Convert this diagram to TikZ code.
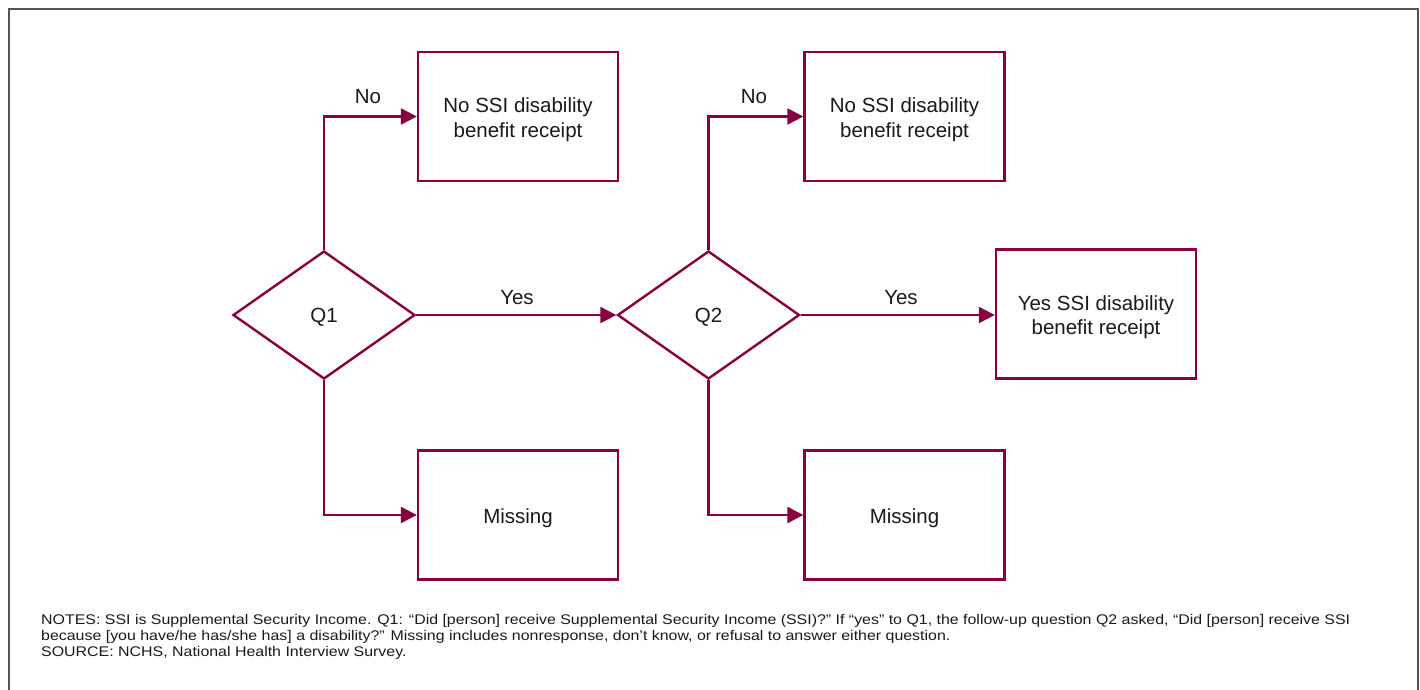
\documentclass[tikz,border=0pt]{standalone}
\usepackage{fontspec}
\setmainfont{Liberation Sans}
\newfontfamily\notefont[FakeStretch=1.138]{Liberation Sans}
\usetikzlibrary{shapes.geometric,arrows.meta}
\definecolor{maroon}{HTML}{880040}
\definecolor{framegray}{HTML}{555555}
\definecolor{txt}{HTML}{1A1A1A}
\begin{document}
\begin{tikzpicture}[x=1pt,y=-1pt,
  boxtxt/.style={align=center,text=txt,inner sep=0pt,yshift=-3pt,font=\fontsize{20.5}{24.5}\selectfont},
  box/.style={draw=maroon,line width=2.4pt,minimum width=200pt,minimum height=129pt,inner sep=0pt},
  decision/.style={diamond,draw=maroon,line width=2.4pt,minimum width=182pt,minimum height=128pt,inner sep=0pt},
  flow/.style={draw=maroon,line width=2.4pt,-{Triangle[length=16pt,width=16pt]}},
  lbl/.style={text=txt,font=\fontsize{20.5}{24.5}\selectfont,inner sep=0pt},
  note/.style={anchor=base west,text=txt,inner sep=0pt,font=\notefont\fontsize{14}{16}\selectfont}]
\useasboundingbox (0,0) rectangle (1420,689);
\fill[white] (0,0) rectangle (1420,689);
\draw[framegray,line width=2pt] (8.5,700) -- (8.5,8.5) -- (1417.5,8.5) -- (1417.5,700);

\node[decision,label={[boxtxt,yshift=1pt]center:Q1}] (q1) at (324,315) {};
\node[decision,label={[boxtxt,yshift=1pt]center:Q2}] (q2) at (708.5,315) {};
\node[box,label={[boxtxt]center:No SSI disability\\benefit receipt}] (no1) at (518,116.5) {};
\node[box,label={[boxtxt]center:Missing}] (miss1) at (518,515) {};
\node[box,label={[boxtxt]center:No SSI disability\\benefit receipt}] (no2) at (904.5,116.5) {};
\node[box,label={[boxtxt]center:Missing}] (miss2) at (904.5,515) {};
\node[box,label={[boxtxt]center:Yes SSI disability\\benefit receipt}] (yes2) at (1096,314) {};

\draw[flow] (q1.north) |- (no1.west);
\draw[flow] (q1.south) |- (miss1.west);
\draw[flow] (q1.east) -- (q2.west);
\draw[flow] (q2.north) |- (no2.west);
\draw[flow] (q2.south) |- (miss2.west);
\draw[flow] (q2.east) -- (yes2.west |- q2.east);

\node[lbl] (lno1) at (368,96.5) {No};
\node[lbl] (lyes1) at (517,297.5) {Yes};
\node[lbl] (lno2) at (754,96.5) {No};
\node[lbl] (lyes2) at (901,297.5) {Yes};

\node[note] (n1) at (41,624) {NOTES: SSI is Supplemental Security Income. Q1: “Did [person] receive Supplemental Security Income (SSI)?” If “yes” to Q1, the follow-up question Q2 asked, “Did [person] receive SSI};
\node[note] (n2) at (41,640) {because [you have/he has/she has] a disability?” Missing includes nonresponse, don’t know, or refusal to answer either question.};
\node[note] (n3) at (41,656) {SOURCE: NCHS, National Health Interview Survey.};
\end{tikzpicture}
\end{document}
